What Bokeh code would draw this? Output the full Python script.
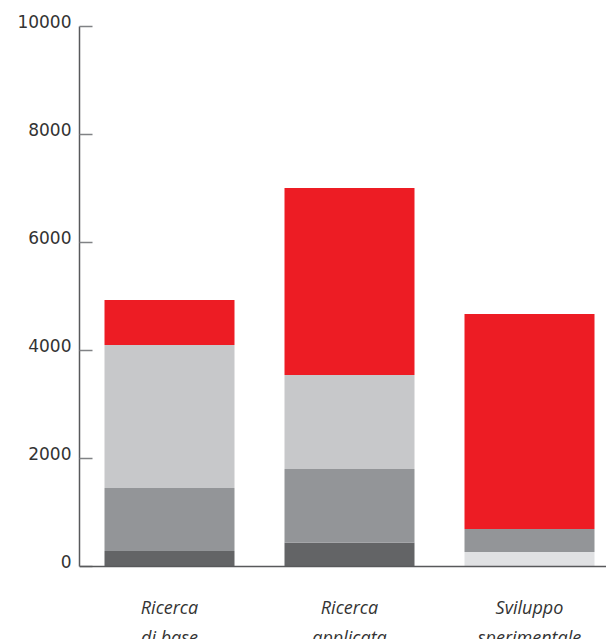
from bokeh.plotting import figure
from bokeh.models import ColumnDataSource, Range1d, FixedTicker, Span, LinearAxis
from bokeh.core.properties import value
from bokeh.embed import file_html
from bokeh.resources import INLINE

# ---- data ----
categories = ["Ricerca\ndi base", "Ricerca\napplicata", "Sviluppo\nsperimentale"]
dark = [287, 441, 0]
very_light = [0, 0, 269]
mid = [1167, 1365, 425]
light = [2648, 1740, 0]
red = [833, 3463, 3982]
y_ticks = [0, 2000, 4000, 6000, 8000, 10000]
y_tick_labels = ["0", "2000", "4000", "6000", "8000", "10000"]

series = ["dark", "very_light", "mid", "light", "red"]
colors = ["#636466", "#E0E1E3", "#939598", "#C7C8CA", "#ED1C24"]

W, H = 606, 639
left, axis_top = 79, 26
zero_px = 566
px_per_unit = (zero_px - axis_top) / 10000.0
head_px = 12                                  # extra room above the 10000 tick
frame_top = axis_top - head_px
y_end = 10000 + head_px / px_per_unit
y_start = -(H - zero_px) / px_per_unit
slot = 180.0
x_end = (W - left) / slot
label_lift = int(round(5 / px_per_unit))     # labels sit on their ticks

xs = [i + 0.5 for i in range(len(categories))]
source = ColumnDataSource(dict(x=xs, cat=categories, dark=dark, very_light=very_light,
                               mid=mid, light=light, red=red))

p = figure(width=W, height=H, output_backend="svg", toolbar_location=None,
           x_range=Range1d(0, x_end), y_range=Range1d(y_start, y_end),
           x_axis_location=None, min_border_left=left, min_border_top=frame_top,
           min_border_bottom=0, min_border_right=0)
p.outline_line_color = None
p.xgrid.visible = False
p.ygrid.visible = False
p.background_fill_color = "white"
p.border_fill_color = "white"

p.vbar_stack(series, x="x", width=130.0 / slot, source=source, color=colors, line_width=0)

base = Span(location=0, dimension="width", line_color="#58595B", line_width=1.5)
p.add_layout(base)

# axis with line and ticks only
ax = p.yaxis[0]
ax.ticker = FixedTicker(ticks=y_ticks)
ax.bounds = (0, 10000)
ax.axis_line_color = "#58595B"
ax.axis_line_width = 1.5
ax.major_tick_in = 13
ax.major_tick_out = 0
ax.major_tick_line_color = "#808285"
ax.major_tick_line_width = 1.5
ax.minor_tick_line_color = None
ax.major_label_overrides = {t: "" for t in y_ticks}
ax.major_label_standoff = 0

# axis carrying only the labels, lifted so that each label sits on its tick
lab_ticks = [t + label_lift for t in y_ticks]
lab_ax = LinearAxis(ticker=FixedTicker(ticks=lab_ticks),
                    major_label_overrides={lt: s for lt, s in zip(lab_ticks, y_tick_labels)},
                    axis_line_color=None, major_tick_line_color=None,
                    minor_tick_line_color=None, major_tick_in=0, major_tick_out=0,
                    major_label_standoff=8,
                    major_label_text_font="DejaVu Sans",
                    major_label_text_font_size="17px",
                    major_label_text_color="#333333")
p.add_layout(lab_ax, "left")

p.text(x="x", y=0, text="cat", source=source, y_offset=28,
       text_align="center", text_baseline="top",
       text_font=value("Open Sans"), text_font_style="italic",
       text_font_size="18px", text_color="#333333", text_line_height=1.25)

open("out.html", "w").write(file_html(p, INLINE))
